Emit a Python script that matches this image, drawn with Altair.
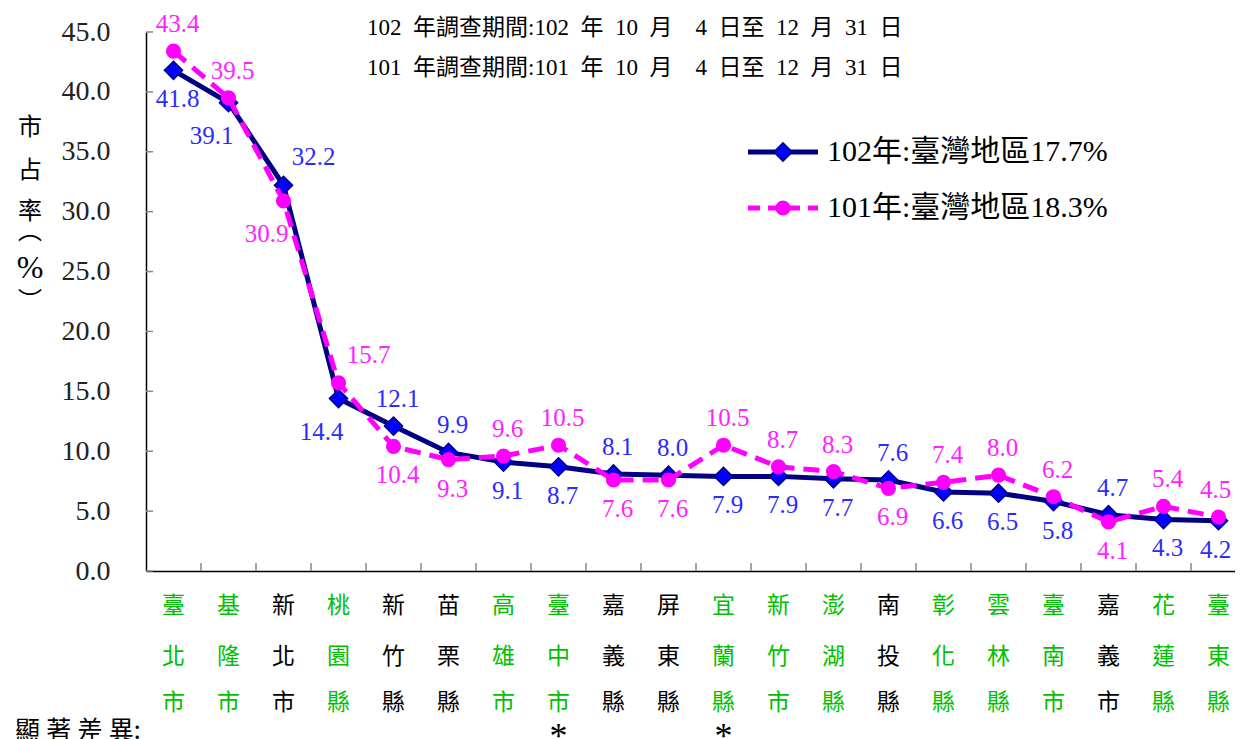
import altair as alt
import pandas as pd

# ---------------- data ----------------
counties = ["臺北市", "基隆市", "新北市", "桃園縣", "新竹縣", "苗栗縣", "高雄市",
            "臺中市", "嘉義縣", "屏東縣", "宜蘭縣", "新竹市", "澎湖縣", "南投縣",
            "彰化縣", "雲林縣", "臺南市", "嘉義市", "花蓮縣", "臺東縣"]
share_102 = [41.8, 39.1, 32.2, 14.4, 12.1, 9.9, 9.1, 8.7, 8.1, 8.0,
             7.9, 7.9, 7.7, 7.6, 6.6, 6.5, 5.8, 4.7, 4.3, 4.2]
share_101 = [43.4, 39.5, 30.9, 15.7, 10.4, 9.3, 9.6, 10.5, 7.6, 7.6,
             10.5, 8.7, 8.3, 6.9, 7.4, 8.0, 6.2, 4.1, 5.4, 4.5]
# label placement codes (N above, S below, NE above-right, SW below-left,
# Nw / Sw: above / below shifted a little left to stay inside the picture)
side_102 = ["S", "SW", "NE", "SW", "N", "N", "S", "S", "N", "N",
            "S", "S", "S", "N", "S", "S", "S", "N", "S", "Sw"]
side_101 = ["N", "N", "SW", "NE", "S", "S", "N", "N", "S", "S",
            "N", "N", "N", "S", "N", "N", "N", "S", "N", "Nw"]
green_county = [1, 1, 0, 1, 0, 0, 1, 1, 0, 0, 1, 1, 1, 0, 1, 1, 1, 0, 1, 1]
significant = [0, 0, 0, 0, 0, 0, 0, 1, 0, 0, 1, 0, 0, 0, 0, 0, 0, 0, 0, 0]
y_ticks = [0, 5, 10, 15, 20, 25, 30, 35, 40, 45]
legend_102 = "102年:臺灣地區17.7%"
legend_101 = "101年:臺灣地區18.3%"
note_102 = "102\u2002年調查期間:102\u2002年\u200210\u2002月\u2002\u20024\u2002日至\u200212\u2002月\u200231\u2002日"
note_101 = "101\u2002年調查期間:101\u2002年\u200210\u2002月\u2002\u20024\u2002日至\u200212\u2002月\u200231\u2002日"
sig_caption = "顯\u2005著\u2005差\u2005異:"

# ---------------- layout ----------------
W, H = 1089, 539
BAND = 55.0
NAVY, BLUE, MAG = "#000080", "#0000FF", "#FF00FF"
BLUE_TXT, MAG_TXT, GREEN = "#2B2BFF", "#FF22FF", "#00C000"
SERIF = "Liberation Serif, Noto Sans CJK TC"
CJK = "Noto Sans CJK TC"
OFFS = {"N": (4, -27), "S": (4, 29), "NE": (30, -28), "SW": (-17, 33),
        "Nw": (-3, -27), "Sw": (-3, 29)}

idx = list(range(len(counties)))
d102 = pd.DataFrame({"idx": idx, "v": share_102, "side": side_102})
d101 = pd.DataFrame({"idx": idx, "v": share_101, "side": side_101})
dcat = pd.DataFrame({
    "idx": idx,
    "c1": [c[0] for c in counties],
    "c2": [c[1] for c in counties],
    "c3": [c[2] for c in counties],
    "green": green_county,
    "sig": significant,
})
dxt = pd.DataFrame({"idx": [i + 0.5 for i in idx[:-1]]})
dyt = pd.DataFrame({"v": y_ticks})

# the last band runs past the right edge of the picture, as in the original
xscale = alt.Scale(domain=[-0.5, -0.5 + W / BAND], nice=False, zero=False)
yscale = alt.Scale(domain=[0, 45], nice=False)

X_AXIS = alt.Axis(labels=False, ticks=False, grid=False, title=None,
                  domainColor="black", domainWidth=1.5)
Y_AXIS = alt.Axis(values=y_ticks, format=".1f", ticks=False, grid=False,
                  title=None, labelFont="Liberation Serif", labelFontSize=28,
                  labelColor="#222222", labelPadding=36,
                  domainColor="black", domainWidth=1.5)
X = alt.X("idx:Q", scale=xscale, axis=X_AXIS)
Y = alt.Y("v:Q", scale=yscale, axis=Y_AXIS)

layers = []

# series
layers.append(alt.Chart(d102).mark_line(color=NAVY, strokeWidth=5).encode(x=X, y=Y))
layers.append(alt.Chart(d102).mark_point(shape="diamond", filled=True, fill=BLUE,
                                         stroke=NAVY, strokeWidth=1.5, size=330,
                                         opacity=1).encode(x=X, y=Y))
layers.append(alt.Chart(d101).mark_line(color=MAG, strokeWidth=5,
                                        strokeDash=[16, 9]).encode(x=X, y=Y))
layers.append(alt.Chart(d101).mark_circle(color=MAG, size=230, opacity=1).encode(x=X, y=Y))

# axis ticks pointing inward
layers.append(alt.Chart(dxt).mark_rule(color="#888888", strokeWidth=1.5).encode(
    x=X, y=alt.value(H), y2=alt.value(H - 8)))
layers.append(alt.Chart(dyt).mark_rule(color="#888888", strokeWidth=1.5).encode(
    y=Y, x=alt.value(0), x2=alt.value(7)))

# value labels
for df, col in ((d102, BLUE_TXT), (d101, MAG_TXT)):
    for code, (dx, dy) in OFFS.items():
        sub = df[df["side"] == code]
        if len(sub) == 0:
            continue
        layers.append(alt.Chart(sub).mark_text(
            font="Liberation Serif", fontSize=25, color=col, dx=dx, dy=dy,
            baseline="middle", align="center").encode(
            x=X, y=Y, text=alt.Text("v:Q", format=".1f")))

# category labels (vertical, 3 rows)
for col, yy in (("c1", 574), ("c2", 625), ("c3", 671)):
    layers.append(alt.Chart(dcat).mark_text(
        font=CJK, fontSize=23, baseline="middle", align="center").encode(
        x=X, y=alt.value(yy), text=f"{col}:N",
        color=alt.condition("datum.green == 1", alt.value(GREEN), alt.value("black"))))

layers.append(alt.Chart(dcat).transform_filter("datum.sig == 1").mark_text(
    font="Liberation Serif", fontSize=36, baseline="top", align="center",
    color="black").encode(x=X, y=alt.value(688), text=alt.value("*")))

one = pd.DataFrame({"a": [0]})


def txt(s, x, y, size, font=SERIF, color="black", align="left", baseline="middle"):
    return alt.Chart(one).mark_text(font=font, fontSize=size, color=color,
                                    align=align, baseline=baseline).encode(
        x=alt.value(x), y=alt.value(y), text=alt.value(s))


# significance caption
layers.append(txt(sig_caption, -131, 699, 25, font=CJK))

# y title (vertical writing)
for s, yy, sz, f in (("市", 96, 24, CJK), ("占", 139, 24, CJK), ("率", 180, 24, CJK),
                     ("︵", 200, 24, CJK), ("%", 236, 32, "Liberation Serif"),
                     ("︶", 270, 24, CJK)):
    layers.append(txt(s, -116, yy, sz, font=f, align="center"))

# survey period notes
layers.append(txt(note_102, 221, -4, 23))
layers.append(txt(note_101, 221, 36, 23))

# legend
layers.append(alt.Chart(one).mark_rule(color=NAVY, strokeWidth=5).encode(
    x=alt.value(602), x2=alt.value(672), y=alt.value(120)))
layers.append(alt.Chart(one).mark_point(shape="diamond", filled=True, fill=BLUE,
                                        stroke=NAVY, strokeWidth=1.5, size=330,
                                        opacity=1).encode(x=alt.value(637), y=alt.value(120)))
layers.append(alt.Chart(one).mark_rule(color=MAG, strokeWidth=5, strokeDash=[12, 8]).encode(
    x=alt.value(602), x2=alt.value(672), y=alt.value(176)))
layers.append(alt.Chart(one).mark_circle(color=MAG, size=230, opacity=1).encode(
    x=alt.value(637), y=alt.value(176)))
layers.append(txt(legend_102, 681, 120, 30))
layers.append(txt(legend_101, 681, 176, 30))

chart = alt.layer(*layers).properties(
    width=W, height=H,
    autosize=alt.AutoSizeParams(type="none"),
    padding={"left": 138, "top": 24, "right": 0, "bottom": 168},
    background="white",
).configure_view(stroke=None)

chart.save("out.html", embed_options={"renderer": "svg", "actions": False})
